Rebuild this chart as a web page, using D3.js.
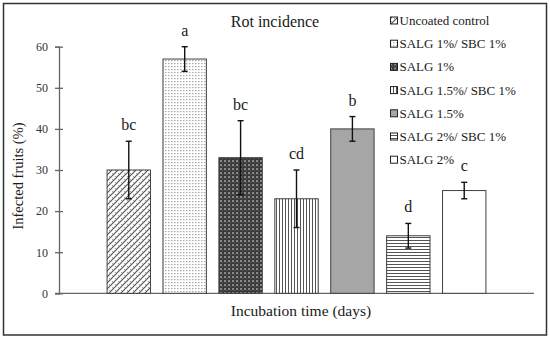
<!DOCTYPE html>
<meta charset="utf-8">
<style>
  body { margin: 0; background: #fff; }
  svg { font-family: "Liberation Serif", "Times New Roman", serif; }
  .axis path, .axis line { stroke: #666; }
  .axis text { font-size: 12px; fill: #333; font-family: "Liberation Serif", serif; }
</style>
<body>
<script src="https://d3js.org/d3.v7.min.js"></script>
<script>
// data
var series = ["Uncoated control", "SALG 1%/ SBC 1%", "SALG 1%", "SALG 1.5%/ SBC 1%", "SALG 1.5%", "SALG 2%/ SBC 1%", "SALG 2%"];
var values = [30, 57, 33, 23, 40, 14, 25];
var errors = [7, 3, 9, 7, 3, 3, 2];
var letters = ["bc", "a", "bc", "cd", "b", "d", "c"];
var yTicks = [0, 10, 20, 30, 40, 50, 60];
var fills = ["url(#p-diag)", "url(#p-dots)", "url(#p-check)", "url(#p-vert)", "#a6a6a6", "url(#p-horiz)", "#fff"];

var width = 550, height = 340;
var svg = d3.select("body").append("svg")
    .attr("width", width)
    .attr("height", height);

// patterns
var defs = svg.append("defs");

var pd = defs.append("pattern").attr("id", "p-diag")
    .attr("patternUnits", "userSpaceOnUse").attr("width", 6).attr("height", 6);
pd.append("rect").attr("width", 6).attr("height", 6).attr("fill", "#fff");
pd.append("path").attr("d", "M-1,7 L7,-1 M-4,4 L4,-4 M2,10 L10,2")
    .attr("stroke", "#555").attr("stroke-width", 1.2);
pd.append("path").attr("d", "M1,2 L2,3 M4,5 L5,6")
    .attr("stroke", "#888").attr("stroke-width", 0.8);

var pdo = defs.append("pattern").attr("id", "p-dots")
    .attr("patternUnits", "userSpaceOnUse").attr("width", 3).attr("height", 3);
pdo.append("rect").attr("width", 3).attr("height", 3).attr("fill", "#fff");
pdo.append("rect").attr("width", 1.5).attr("height", 1.2).attr("fill", "#aaa");

var pc = defs.append("pattern").attr("id", "p-check")
    .attr("patternUnits", "userSpaceOnUse").attr("width", 4).attr("height", 4);
pc.append("rect").attr("width", 4).attr("height", 4).attr("fill", "#3a3a3a");
pc.append("rect").attr("width", 2).attr("height", 2).attr("fill", "#8a8a8a");
pc.append("rect").attr("x", 2).attr("y", 2).attr("width", 1).attr("height", 1).attr("fill", "#666");

var pv = defs.append("pattern").attr("id", "p-vert")
    .attr("patternUnits", "userSpaceOnUse").attr("width", 3).attr("height", 3);
pv.append("rect").attr("width", 3).attr("height", 3).attr("fill", "#fff");
pv.append("rect").attr("width", 1).attr("height", 3).attr("fill", "#555");

var ph = defs.append("pattern").attr("id", "p-horiz")
    .attr("patternUnits", "userSpaceOnUse").attr("width", 3).attr("height", 3);
ph.append("rect").attr("width", 3).attr("height", 3).attr("fill", "#fff");
ph.append("rect").attr("width", 3).attr("height", 1).attr("fill", "#555");

// outer frame
svg.append("rect")
    .attr("x", 3.5).attr("y", 3.5)
    .attr("width", 543).attr("height", 331.5)
    .attr("fill", "none").attr("stroke", "#333").attr("stroke-width", 1.5);

var x0 = 59, x1 = 534, yTop = 46.7, yBot = 293.3;

var x = d3.scaleBand()
    .domain(series)
    .range([x0, x1])
    .paddingInner(0.224)
    .paddingOuter(0.86);

var y = d3.scaleLinear()
    .domain([0, 60])
    .range([yBot, yTop]);

// x axis line
svg.append("line")
    .attr("x1", x0 - 4).attr("x2", x1)
    .attr("y1", yBot).attr("y2", yBot)
    .attr("stroke", "#666").attr("stroke-width", 1.3);

// y axis
var yAxis = svg.append("g")
    .attr("class", "axis")
    .attr("transform", "translate(" + x0 + ",0)")
    .call(d3.axisLeft(y).tickValues(yTicks).tickSize(4).tickPadding(7));
yAxis.select(".domain").attr("stroke-width", 1.3);
yAxis.selectAll(".tick line").attr("x2", 4).attr("x1", -4).attr("stroke-width", 1.3);

// bars
svg.selectAll(".bar")
    .data(values)
  .enter().append("rect")
    .attr("class", "bar")
    .attr("x", function(d, i) { return x(series[i]); })
    .attr("y", function(d) { return y(d); })
    .attr("width", x.bandwidth())
    .attr("height", function(d) { return y(0) - y(d); })
    .attr("fill", function(d, i) { return fills[i]; })
    .attr("stroke", "#404040")
    .attr("stroke-width", 1);

// error bars
var eb = svg.selectAll(".err")
    .data(values)
  .enter().append("g").attr("class", "err")
    .attr("stroke", "#111").attr("stroke-width", 1.4);
function cx(i) { return x(series[i]) + x.bandwidth() / 2; }
eb.append("line")
    .attr("x1", function(d, i) { return cx(i); })
    .attr("x2", function(d, i) { return cx(i); })
    .attr("y1", function(d, i) { return y(d + errors[i]); })
    .attr("y2", function(d, i) { return y(d - errors[i]); });
eb.append("line")
    .attr("x1", function(d, i) { return cx(i) - 3; })
    .attr("x2", function(d, i) { return cx(i) + 3; })
    .attr("y1", function(d, i) { return y(d + errors[i]); })
    .attr("y2", function(d, i) { return y(d + errors[i]); });
eb.append("line")
    .attr("x1", function(d, i) { return cx(i) - 3; })
    .attr("x2", function(d, i) { return cx(i) + 3; })
    .attr("y1", function(d, i) { return y(d - errors[i]); })
    .attr("y2", function(d, i) { return y(d - errors[i]); });

// significance letters
svg.selectAll(".letter")
    .data(letters)
  .enter().append("text")
    .attr("class", "letter")
    .attr("x", function(d, i) { return cx(i); })
    .attr("y", function(d, i) { return y(values[i] + errors[i]) - 11; })
    .attr("text-anchor", "middle")
    .style("font-size", "16px")
    .style("fill", "#1a1a1a")
    .text(function(d) { return d; });

// title and axis titles
svg.append("text")
    .attr("x", 275).attr("y", 27)
    .attr("text-anchor", "middle")
    .style("font-size", "16px").style("fill", "#1a1a1a")
    .text("Rot incidence");

svg.append("text")
    .attr("x", 301).attr("y", 315.5)
    .attr("text-anchor", "middle")
    .style("font-size", "15.5px").style("fill", "#1a1a1a")
    .text("Incubation time (days)");

svg.append("text")
    .attr("transform", "translate(23,176) rotate(-90)")
    .attr("text-anchor", "middle")
    .style("font-size", "14.5px").style("fill", "#1a1a1a")
    .text("Infected fruits (%)");

// legend
var legend = svg.selectAll(".legend")
    .data(series)
  .enter().append("g")
    .attr("class", "legend")
    .attr("transform", function(d, i) { return "translate(390," + (25 + i * 23.2) + ")"; });
legend.append("rect")
    .attr("x", 0.5).attr("y", -8)
    .attr("width", 7).attr("height", 7)
    .attr("fill", function(d, i) { return fills[i]; })
    .attr("stroke", "#222").attr("stroke-width", 1);
legend.append("text")
    .attr("x", 9.5).attr("y", 0)
    .style("font-size", "13px").style("fill", "#1a1a1a")
    .text(function(d) { return d; });
</script>
</body>
